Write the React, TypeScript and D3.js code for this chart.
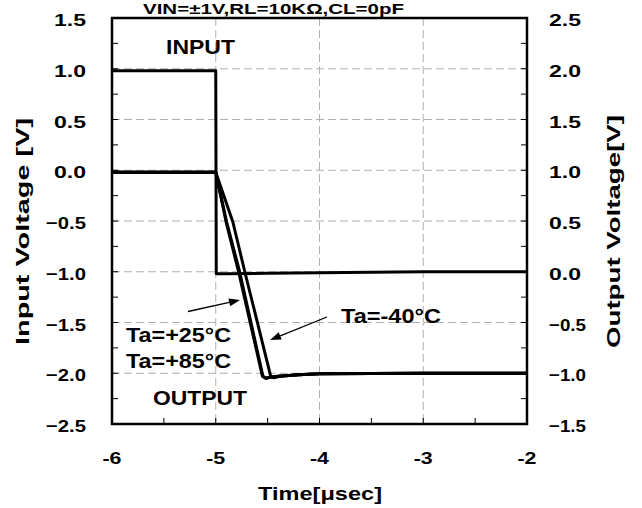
import React from 'react';
import * as d3 from 'd3';

// axis ticks
const xTicks = [-6, -5, -4, -3, -2];
const leftTicks = [1.5, 1.0, 0.5, 0.0, -0.5, -1.0, -1.5, -2.0, -2.5];
const rightTicks = [2.5, 2.0, 1.5, 1.0, 0.5, 0.0, -0.5, -1.0, -1.5];

// input waveform (left axis)
const inputTime = [-6, -5.0, -4.995, -4.9, -4.5, -4.0, -3.0, -2.0];
const inputVolt = [0.98, 0.98, -1.02, -1.02, -1.015, -1.01, -1.0, -1.0];

// output waveforms (right axis)
const out25Time = [-6, -5.0, -4.9, -4.78, -4.55, -4.52, -4.48, -4.4, -4.2, -4.0, -3.0, -2.0];
const out25Volt = [0.98, 0.98, 0.49, 0.0, -1.03, -1.05, -1.04, -1.03, -1.015, -1.005, -1.0, -1.0];
const out85Time = [-6, -5.0, -4.895, -4.77, -4.545, -4.515, -4.475, -4.4, -4.2, -4.0, -3.0, -2.0];
const out85Volt = [0.98, 0.98, 0.49, 0.0, -1.03, -1.05, -1.04, -1.03, -1.015, -1.005, -1.0, -1.0];
const outM40Time = [-6, -5.0, -4.835, -4.72, -4.47, -4.44, -4.38, -4.2, -4.0, -3.0, -2.0];
const outM40Volt = [0.98, 0.98, 0.49, 0.0, -1.03, -1.045, -1.03, -1.015, -1.005, -1.0, -1.0];

const W = 642;
const H = 508;
const left = 112;
const right = 527;
const top = 18;
const bottom = 424;
const font = '"Liberation Sans", Arial, sans-serif';

const x = d3.scaleLinear().domain([-6, -2]).range([left, right]);
const yL = d3.scaleLinear().domain([-2.5, 1.5]).range([bottom, top]);
const yR = d3.scaleLinear().domain([-1.5, 2.5]).range([bottom, top]);
const fmt = d3.format('.1f');

const zip = (t: number[], v: number[]) => t.map((d, i) => [d, v[i]] as [number, number]);

const lineL = d3.line<[number, number]>().x((d) => x(d[0])).y((d) => yL(d[1]));
const lineR = d3.line<[number, number]>().x((d) => x(d[0])).y((d) => yR(d[1]));

const T = ({ x, y, w, size, anchor = 'start', rot = false, children }: any) => (
  <text
    x={x}
    y={y}
    fontSize={size}
    fontWeight="bold"
    fontFamily={font}
    textAnchor={anchor}
    textLength={w}
    lengthAdjust="spacingAndGlyphs"
    transform={rot ? `rotate(-90,${x},${y})` : undefined}
  >
    {children}
  </text>
);

const Arrow = ({ x1, y1, x2, y2 }: any) => {
  const a = Math.atan2(y2 - y1, x2 - x1);
  const L = 11;
  const hw = 4;
  const bx = x2 - L * Math.cos(a);
  const by = y2 - L * Math.sin(a);
  const px = -Math.sin(a) * hw;
  const py = Math.cos(a) * hw;
  return (
    <g>
      <line x1={x1} y1={y1} x2={bx} y2={by} stroke="#000" strokeWidth={1.3} />
      <polygon points={`${x2},${y2} ${bx + px},${by + py} ${bx - px},${by - py}`} fill="#000" />
    </g>
  );
};

export default function App() {
  const yMinor = d3.range(0, 17).map((i) => -2.5 + i * 0.25);
  const xMinor = d3.range(0, 9).map((i) => -6 + i * 0.5);
  const gridY = leftTicks.filter((v) => v < 1.5 && v > -2.5);
  const gridX = xTicks.filter((v) => v > -6 && v < -2);

  return (
    <svg width={W} height={H} style={{ position: 'absolute', left: 0, top: 0, background: '#fff' }}>
      <rect width={W} height={H} fill="#fff" />
      {/* grid */}
      {gridY.map((v) => (
        <line key={'gy' + v} x1={left} x2={right} y1={yL(v)} y2={yL(v)} stroke="#b0b0b0" strokeWidth={1} strokeDasharray="8,4" />
      ))}
      {gridX.map((v) => (
        <line key={'gx' + v} x1={x(v)} x2={x(v)} y1={top} y2={bottom} stroke="#b0b0b0" strokeWidth={1} strokeDasharray="8,4" />
      ))}
      {/* minor ticks, inward */}
      {yMinor.map((v) => (
        <g key={'ty' + v}>
          <line x1={left} x2={left + 6} y1={yL(v)} y2={yL(v)} stroke="#000" strokeWidth={1} />
          <line x1={right} x2={right - 6} y1={yL(v)} y2={yL(v)} stroke="#000" strokeWidth={1} />
        </g>
      ))}
      {xMinor.map((v) => (
        <line key={'tx' + v} x1={x(v)} x2={x(v)} y1={bottom} y2={bottom - 6} stroke="#000" strokeWidth={1} />
      ))}
      {/* data */}
      <path d={lineL(zip(inputTime, inputVolt)) || ''} fill="none" stroke="#000" strokeWidth={3} strokeLinejoin="round" />
      <path d={lineR(zip(out85Time, out85Volt)) || ''} fill="none" stroke="#000" strokeWidth={3} strokeLinejoin="round" />
      <path d={lineR(zip(out25Time, out25Volt)) || ''} fill="none" stroke="#000" strokeWidth={3} strokeLinejoin="round" />
      <path d={lineR(zip(outM40Time, outM40Volt)) || ''} fill="none" stroke="#000" strokeWidth={3} strokeLinejoin="round" />
      {/* frame */}
      <rect x={left} y={top} width={right - left} height={bottom - top} fill="none" stroke="#000" strokeWidth={2.5} />
      {/* tick labels */}
      {leftTicks.map((v) => (
        <T key={'ll' + v} x={86} y={yL(v) + 8} size={17} anchor="end" w={fmt(v).length > 3 ? 40 : 32}>
          {fmt(v)}
        </T>
      ))}
      {rightTicks.map((v) => (
        <T key={'rl' + v} x={549} y={yR(v) + 8} size={17} anchor="start" w={fmt(v).length > 3 ? 37 : 32}>
          {fmt(v)}
        </T>
      ))}
      {xTicks.map((v) => (
        <T key={'xl' + v} x={x(v)} y={464} size={17} anchor="middle" w={19}>
          {String(v)}
        </T>
      ))}
      {/* axis titles */}
      <T x={320} y={500} size={18} anchor="middle" w={124}>Time[μsec]</T>
      <T x={28.5} y={231.5} size={19} anchor="middle" w={227} rot>Input Voltage [V]</T>
      <T x={620} y={231.5} size={19} anchor="middle" w={233} rot>Output Voltage[V]</T>
      <T x={143} y={13.5} size={14} anchor="start" w={261}>VIN=±1V,RL=10KΩ,CL=0pF</T>
      {/* annotations */}
      <T x={166} y={54} size={20} w={69}>INPUT</T>
      <T x={153} y={405} size={20} w={94}>OUTPUT</T>
      <T x={126} y={341.5} size={20} w={105}>Ta=+25°C</T>
      <T x={126} y={368} size={20} w={105}>Ta=+85°C</T>
      <T x={341} y={322.5} size={20} w={100}>Ta=-40°C</T>
      <Arrow x1={188} y1={311.5} x2={240} y2={300} />
      <Arrow x1={327} y1={317} x2={270} y2={340} />
    </svg>
  );
}
